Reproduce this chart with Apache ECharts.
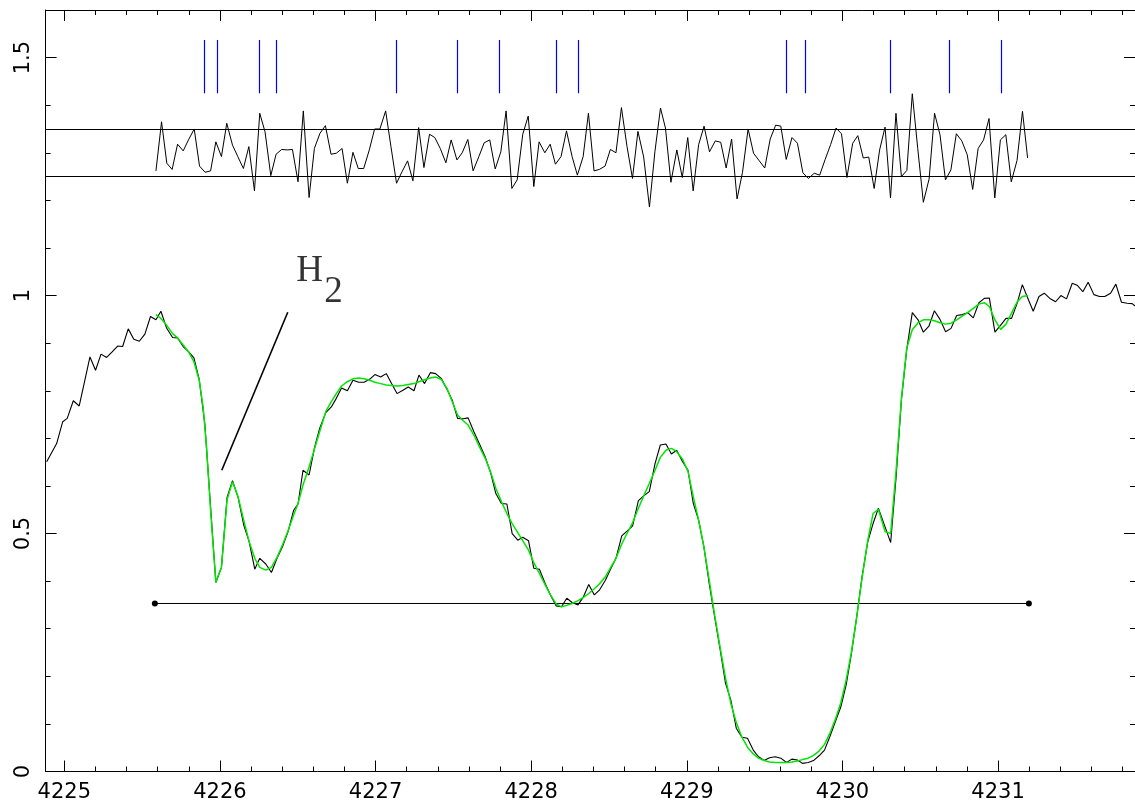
<!DOCTYPE html>
<html><head><meta charset="utf-8">
<script src="https://cdn.jsdelivr.net/npm/echarts@6/dist/echarts.min.js"></script>
<style>html,body{margin:0;padding:0;background:#fff}#c{width:1135px;height:810px}</style>
</head><body><div id="c"></div>
<script>
// ---------- data ----------
const specWave = [4224.887,4224.951,4224.990,4225.019,4225.058,4225.096,4225.131,4225.165,4225.201,4225.236,4225.272,4225.306,4225.343,4225.375,4225.411,4225.447,4225.482,4225.518,4225.554,4225.589,4225.621,4225.657,4225.696,4225.728,4225.764,4225.798,4225.833,4225.867,4225.903,4225.940,4225.974,4226.010,4226.046,4226.081,4226.117,4226.153,4226.188,4226.224,4226.256,4226.295,4226.331,4226.367,4226.402,4226.438,4226.474,4226.502,4226.534,4226.573,4226.609,4226.641,
4226.680,4226.716,4226.748,4226.782,4226.819,4226.855,4226.892,4226.926,4226.962,4226.996,4227.033,4227.069,4227.103,4227.138,4227.176,4227.210,4227.247,4227.279,4227.315,4227.352,4227.386,4227.422,4227.459,4227.493,4227.527,4227.563,4227.595,4227.632,4227.668,4227.705,4227.741,4227.773,4227.809,4227.844,4227.878,4227.914,4227.946,4227.983,4228.017,4228.053,4228.090,4228.124,4228.160,4228.195,4228.229,4228.263,4228.301,4228.336,4228.370,4228.406,4228.438,
4228.477,4228.513,4228.545,4228.582,4228.616,4228.652,4228.689,4228.723,4228.759,4228.796,4228.830,4228.866,4228.901,4228.935,4228.973,4229.008,4229.042,4229.076,4229.110,4229.144,4229.179,4229.215,4229.249,4229.283,4229.318,4229.354,4229.390,4229.427,4229.461,4229.497,4229.532,4229.568,4229.604,4229.641,4229.675,4229.711,4229.743,4229.780,4229.814,4229.850,4229.885,4229.919,4229.955,4229.990,4230.024,4230.058,4230.092,4230.126,4230.163,4230.197,4230.231,
4230.274,4230.310,4230.345,4230.379,4230.413,4230.449,4230.486,4230.520,4230.556,4230.591,4230.627,4230.663,4230.698,4230.734,4230.770,4230.805,4230.841,4230.877,4230.912,4230.944,4230.980,4231.017,4231.051,4231.087,4231.123,4231.156,4231.192,4231.226,4231.263,4231.297,4231.333,4231.370,4231.404,4231.440,4231.477,4231.511,4231.545,4231.579,4231.616,4231.652,4231.686,4231.723,4231.757,4231.793,4231.830,4231.862,4231.880];
const specFlux = [0.651,0.689,0.735,0.742,0.779,0.768,0.820,0.871,0.843,0.877,0.870,0.881,0.894,0.893,0.930,0.908,0.904,0.919,0.956,0.949,0.967,0.932,0.912,0.911,0.893,0.882,0.869,0.824,0.731,0.556,0.397,0.429,0.576,0.611,0.576,0.518,0.483,0.425,0.448,0.436,0.418,0.448,0.472,0.504,0.549,0.562,0.633,0.623,0.682,0.721,
0.754,0.766,0.784,0.806,0.800,0.822,0.818,0.818,0.824,0.834,0.829,0.836,0.815,0.794,0.801,0.808,0.800,0.833,0.815,0.838,0.836,0.826,0.803,0.780,0.742,0.741,0.743,0.714,0.688,0.661,0.626,0.584,0.563,0.562,0.500,0.486,0.492,0.485,0.427,0.425,0.395,0.371,0.348,0.346,0.364,0.355,0.350,0.367,0.393,0.371,0.381,
0.402,0.427,0.448,0.495,0.505,0.516,0.569,0.579,0.588,0.647,0.686,0.688,0.667,0.675,0.651,0.633,0.563,0.528,0.472,0.395,0.325,0.255,0.185,0.150,0.091,0.072,0.070,0.045,0.031,0.023,0.029,0.031,0.028,0.019,0.026,0.024,0.017,0.019,0.023,0.033,0.045,0.073,0.105,0.136,0.182,0.248,0.325,0.409,0.483,0.521,0.553,
0.514,0.481,0.619,0.780,0.886,0.964,0.949,0.923,0.936,0.968,0.950,0.924,0.931,0.958,0.960,0.964,0.953,0.985,0.994,0.995,0.923,0.938,0.952,0.952,0.984,1.023,0.994,0.967,0.998,1.005,0.994,0.987,1.000,0.993,1.026,1.021,1.008,1.028,1.002,0.998,0.998,1.005,1.024,0.986,0.984,0.983,0.978];

const fitWave = [4225.589,4225.621,4225.657,4225.696,4225.728,4225.764,4225.798,4225.833,4225.867,4225.892,4225.914,4225.940,4225.974,4226.010,4226.046,4226.081,4226.117,4226.153,4226.188,4226.224,4226.256,4226.295,4226.331,4226.367,4226.402,4226.438,4226.474,4226.502,4226.534,4226.573,4226.609,4226.641,
4226.680,4226.716,4226.748,4226.782,4226.819,4226.855,4226.892,4226.926,4226.962,4226.996,4227.033,4227.069,4227.103,4227.138,4227.176,4227.210,4227.247,4227.279,4227.315,4227.352,4227.386,4227.422,4227.459,4227.493,4227.527,4227.563,4227.595,4227.632,4227.668,4227.705,4227.741,4227.773,4227.809,4227.844,4227.878,4227.914,4227.946,4227.983,4228.017,4228.053,4228.090,4228.124,4228.160,4228.195,4228.229,4228.263,4228.301,4228.336,4228.370,4228.406,4228.438,
4228.477,4228.513,4228.545,4228.582,4228.616,4228.652,4228.689,4228.723,4228.759,4228.796,4228.830,4228.866,4228.901,4228.935,4228.973,4229.008,4229.042,4229.076,4229.110,4229.144,4229.179,4229.215,4229.249,4229.283,4229.318,4229.354,4229.390,4229.427,4229.461,4229.497,4229.532,4229.568,4229.604,4229.641,4229.675,4229.711,4229.743,4229.780,4229.814,4229.850,4229.885,4229.919,4229.955,4229.990,4230.024,4230.058,4230.092,4230.126,4230.163,4230.197,4230.231,
4230.274,4230.310,4230.345,4230.379,4230.413,4230.449,4230.486,4230.520,4230.556,4230.591,4230.627,4230.663,4230.698,4230.734,4230.770,4230.805,4230.841,4230.877,4230.912,4230.944,4230.980,4231.017,4231.051,4231.087,4231.123,4231.156,4231.192];
const fitFlux = [0.960,0.952,0.938,0.920,0.911,0.896,0.882,0.861,0.822,0.766,0.682,0.549,0.398,0.429,0.571,0.609,0.577,0.528,0.483,0.448,0.429,0.423,0.429,0.450,0.476,0.506,0.539,0.563,0.602,0.640,0.679,0.714,
0.756,0.777,0.794,0.810,0.819,0.825,0.827,0.825,0.822,0.818,0.815,0.812,0.811,0.810,0.811,0.813,0.815,0.819,0.823,0.827,0.829,0.824,0.805,0.777,0.749,0.737,0.728,0.707,0.682,0.658,0.628,0.595,0.567,0.542,0.521,0.502,0.485,0.465,0.439,0.416,0.392,0.371,0.352,0.346,0.349,0.353,0.359,0.366,0.374,0.384,0.394,
0.409,0.430,0.448,0.478,0.500,0.523,0.553,0.579,0.605,0.633,0.660,0.675,0.679,0.672,0.656,0.630,0.577,0.528,0.472,0.402,0.329,0.259,0.196,0.143,0.103,0.072,0.051,0.037,0.028,0.023,0.020,0.019,0.019,0.019,0.020,0.022,0.025,0.028,0.034,0.043,0.057,0.080,0.110,0.145,0.192,0.252,0.325,0.406,0.486,0.542,0.551,
0.504,0.500,0.633,0.784,0.889,0.928,0.943,0.949,0.949,0.947,0.943,0.940,0.942,0.949,0.957,0.964,0.973,0.982,0.985,0.977,0.949,0.929,0.940,0.963,0.987,0.998,1.000];

const resWave = [4225.589,4225.625,4225.659,4225.693,4225.728,4225.764,4225.798,4225.835,4225.869,4225.905,4225.940,4225.974,4226.010,4226.044,4226.081,4226.115,4226.151,4226.186,4226.222,4226.256,4226.290,4226.327,4226.361,4226.397,4226.432,4226.466,4226.502,4226.536,4226.573,4226.607,4226.643,4226.678,4226.714,4226.748,4226.785,4226.819,4226.855,4226.889,4226.924,4226.960,4226.994,4227.028,4227.065,4227.099,4227.135,4227.170,4227.206,4227.240,4227.277,4227.311,4227.347,4227.381,4227.416,4227.452,4227.486,4227.523,4227.557,4227.593,4227.627,4227.664,4227.698,4227.734,4227.769,4227.805,4227.839,4227.876,4227.910,4227.946,4227.981,4228.017,4228.051,4228.088,4228.122,4228.156,4228.192,4228.227,4228.263,4228.297,4228.334,4228.368,4228.404,4228.438,4228.475,4228.509,4228.545,4228.580,4228.616,
4228.651,4228.686,4228.723,4228.760,4228.795,4228.831,4228.863,4228.898,4228.936,4228.971,4229.006,4229.041,4229.076,4229.111,4229.146,4229.183,4229.218,4229.253,4229.288,4229.323,4229.358,4229.394,4229.429,4229.466,4229.501,4229.536,4229.571,4229.604,4229.639,4229.676,4229.711,4229.746,4229.781,4229.819,4229.854,4229.889,4229.924,4229.959,4229.994,4230.029,4230.066,4230.099,4230.134,4230.169,4230.204,4230.239,4230.274,4230.309,4230.344,4230.379,4230.414,4230.449,4230.484,4230.520,4230.557,4230.592,4230.627,4230.662,4230.697,4230.732,4230.767,4230.802,4230.837,4230.872,4230.907,4230.942,4230.979,4231.015,4231.050,4231.085,4231.122,4231.157,4231.190];
const resFlux = [1.262,1.365,1.278,1.265,1.318,1.304,1.327,1.350,1.272,1.259,1.262,1.323,1.292,1.362,1.316,1.292,1.267,1.313,1.220,1.383,1.344,1.252,1.297,1.307,1.306,1.307,1.239,1.388,1.206,1.309,1.341,1.357,1.297,1.299,1.309,1.236,1.301,1.267,1.267,1.306,1.350,1.350,1.388,1.313,1.236,1.260,1.283,1.241,1.353,1.269,1.339,1.332,1.309,1.279,1.327,1.285,1.300,1.328,1.262,1.292,1.321,1.327,1.266,1.302,1.388,1.225,1.243,1.339,1.377,1.229,1.323,1.300,1.318,1.276,1.292,1.346,1.292,1.253,1.292,1.383,1.262,1.265,1.272,1.307,1.300,1.395,1.313,
1.246,1.345,1.291,1.186,1.302,1.394,1.352,1.238,1.306,1.248,1.332,1.220,1.317,1.356,1.302,1.325,1.322,1.268,1.329,1.203,1.259,1.350,1.299,1.283,1.268,1.329,1.358,1.356,1.286,1.332,1.320,1.258,1.246,1.257,1.253,1.286,1.317,1.352,1.340,1.248,1.320,1.336,1.289,1.291,1.225,1.306,1.354,1.205,1.383,1.250,1.263,1.424,1.309,1.196,1.245,1.383,1.338,1.243,1.264,1.340,1.325,1.296,1.223,1.309,1.327,1.372,1.205,1.327,1.338,1.239,1.284,1.387,1.289];

const lineWave = [4225.897,4225.982,4226.256,4226.359,4227.134,4227.523,4227.792,4228.161,4228.302,4229.641,4229.764,4230.306,4230.684,4231.023];
const lineMarkRange = [1.425, 1.537];
const sigmaLevels = [1.25, 1.35];
const barWave = [4225.582, 4231.198];
const barLevel = [0.353, 0.353];
const pointerWave = [4226.012, 4226.436];
const pointerFlux = [0.633, 0.965];
const labelH = {text: 'H', wave: 4226.577, flux: 1.050};
const labelSub = {text: '2', wave: 4226.730, flux: 1.006};

const xTickLabels = [4225, 4226, 4227, 4228, 4229, 4230, 4231];
const yTickLabels = [0, 0.5, 1, 1.5];
const X_MIN = 4224.88, X_MAX = 4231.88, Y_MIN = 0, Y_MAX = 1.6;

// minor ticks: 5 subdivisions per major interval
const xMinor = [];
for (let v = 4224.8; v <= X_MAX + 1e-9; v = Math.round((v + 0.2) * 10) / 10) {
  if (v > X_MIN && Math.abs(v - Math.round(v)) > 1e-6) xMinor.push(v);
}
const yMinor = [];
for (let i = 1; i <= 16; i++) { if (i % 5 !== 0) yMinor.push(i / 10); }

const pairs = (xs, ys) => xs.map((x, i) => [x, ys[i]]);

// ---------- chart ----------
const FONT = '"DejaVu Sans ExtraLight", "DejaVu Sans", sans-serif';
const black = '#000';
function xAx(pos, ticks, len, labels) {
  return {
    type: 'value', min: X_MIN, max: X_MAX, position: pos,
    axisLine: {show: len > 6, onZero: false, lineStyle: {color: black, width: 1}},
    axisTick: {show: true, inside: true, length: len, customValues: ticks, lineStyle: {color: black, width: 1}},
    axisLabel: labels ? {show: true, customValues: labels, color: black, fontFamily: FONT, fontSize: 21, margin: 11,
      formatter: v => String(v)} : {show: false},
    splitLine: {show: false}, minorTick: {show: false}
  };
}
function yAx(pos, ticks, len, labels) {
  return {
    type: 'value', min: Y_MIN, max: Y_MAX, position: pos,
    axisLine: {show: len > 6, onZero: false, lineStyle: {color: black, width: 1}},
    axisTick: {show: true, inside: true, length: len, customValues: ticks, lineStyle: {color: black, width: 1}},
    axisLabel: labels ? {show: true, customValues: labels, rotate: 90, color: black, fontFamily: FONT, fontSize: 21, margin: 12,
      formatter: v => String(v)} : {show: false},
    splitLine: {show: false}, minorTick: {show: false}
  };
}

const chart = echarts.init(document.getElementById('c'), null, {renderer: 'canvas'});
chart.setOption({
  animation: false,
  backgroundColor: '#fff',
  grid: {left: 45.6, top: 10, width: 1090.6, height: 761.5, containLabel: false},
  xAxis: [
    xAx('bottom', xTickLabels, 11, xTickLabels),
    xAx('bottom', xMinor, 5, null),
    xAx('top', xTickLabels, 11, null),
    xAx('top', xMinor, 5, null)
  ],
  yAxis: [
    yAx('left', yTickLabels, 11, yTickLabels),
    yAx('left', yMinor, 5, null),
    yAx('right', yTickLabels, 11, null),
    yAx('right', yMinor, 5, null)
  ],
  series: [
    {
      name: 'spectrum', type: 'line', data: pairs(specWave, specFlux), showSymbol: false, symbol: 'none',
      lineStyle: {color: black, width: 1.1}, z: 3, silent: true
    },
    {
      name: 'fit', type: 'line', data: pairs(fitWave, fitFlux), showSymbol: false, symbol: 'none',
      lineStyle: {color: '#00e600', width: 1.5}, z: 4, silent: true
    },
    {
      name: 'residuals', type: 'line', data: pairs(resWave, resFlux), showSymbol: false, symbol: 'none',
      lineStyle: {color: black, width: 1}, z: 3, silent: true,
      markLine: {
        silent: true, symbol: ['none', 'none'], label: {show: false},
        lineStyle: {color: black, width: 1, type: 'solid'},
        data: sigmaLevels.map(v => ({yAxis: v}))
      }
    },
    {
      name: 'lines', type: 'line', data: [], silent: true,
      markLine: {
        silent: true, symbol: ['none', 'none'], label: {show: false},
        lineStyle: {color: '#0000ff', width: 1.2, type: 'solid'},
        data: lineWave.map(w => [{coord: [w, lineMarkRange[0]]}, {coord: [w, lineMarkRange[1]]}])
      }
    },
    {
      name: 'bar', type: 'line', data: pairs(barWave, barLevel), symbol: 'circle', symbolSize: 6, showSymbol: true,
      itemStyle: {color: black}, lineStyle: {color: black, width: 1}, z: 3, silent: true
    },
    {
      name: 'pointer', type: 'line', data: pairs(pointerWave, pointerFlux), symbol: 'none',
      lineStyle: {color: black, width: 1.6}, z: 3, silent: true
    },
    {
      name: 'labels', type: 'scatter', symbolSize: 0, silent: true, z: 5,
      itemStyle: {color: black},
      data: [
        {value: [labelH.wave, labelH.flux], label: {formatter: labelH.text}},
        {value: [labelSub.wave, labelSub.flux], label: {formatter: labelSub.text}}
      ],
      label: {show: true, position: 'inside', color: black, textBorderWidth: 0, fontFamily: '"Liberation Serif", serif', fontSize: 37}
    }
  ]
});
</script></body></html>
